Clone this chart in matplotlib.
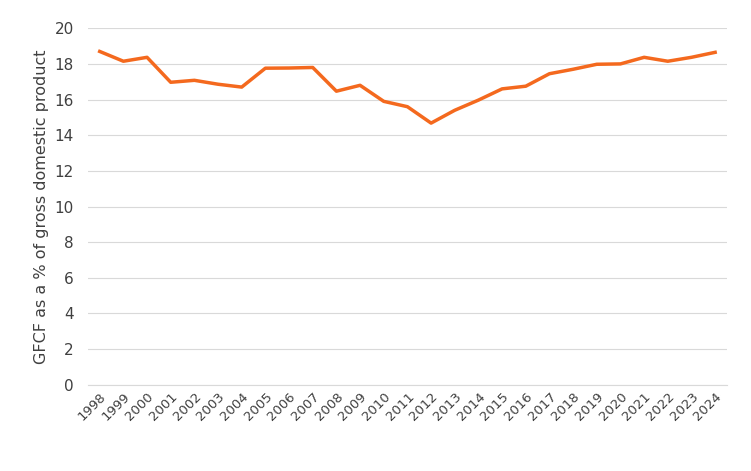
import matplotlib.pyplot as plt

years = [str(y) for y in range(1998, 2025)]
gfcf = [18.7, 18.15, 18.37, 16.97, 17.08, 16.86, 16.7, 17.76, 17.77, 17.8,
        16.47, 16.8, 15.9, 15.6, 14.68, 15.4, 15.97, 16.6, 16.75, 17.45,
        17.7, 17.98, 18.0, 18.37, 18.15, 18.37, 18.65]

fig = plt.figure(figsize=(7.51, 4.71), dpi=100)
ax = fig.add_axes([0.117, 0.183, 0.851, 0.757])

ax.plot(years, gfcf, color="#F4691E", linewidth=2.5, solid_joinstyle="round")

ax.set_ylim(0, 20)
ax.set_yticks(range(0, 21, 2))
ax.set_xlim(-0.5, len(years) - 0.5)
ax.grid(axis="y", color="#d9d9d9", linewidth=0.8)
ax.set_axisbelow(True)
for s in ["top", "right", "left"]:
    ax.spines[s].set_visible(False)
ax.spines["bottom"].set_color("#d9d9d9")
ax.tick_params(axis="both", length=0, colors="#404040", labelsize=9.5)
ax.tick_params(axis="y", labelsize=11, pad=10)
plt.setp(ax.get_xticklabels(), rotation=45, ha="right", rotation_mode="anchor")
ax.set_ylabel("GFCF as a % of gross domestic product", fontsize=11.5, color="#404040")

fig.savefig("out.png")
